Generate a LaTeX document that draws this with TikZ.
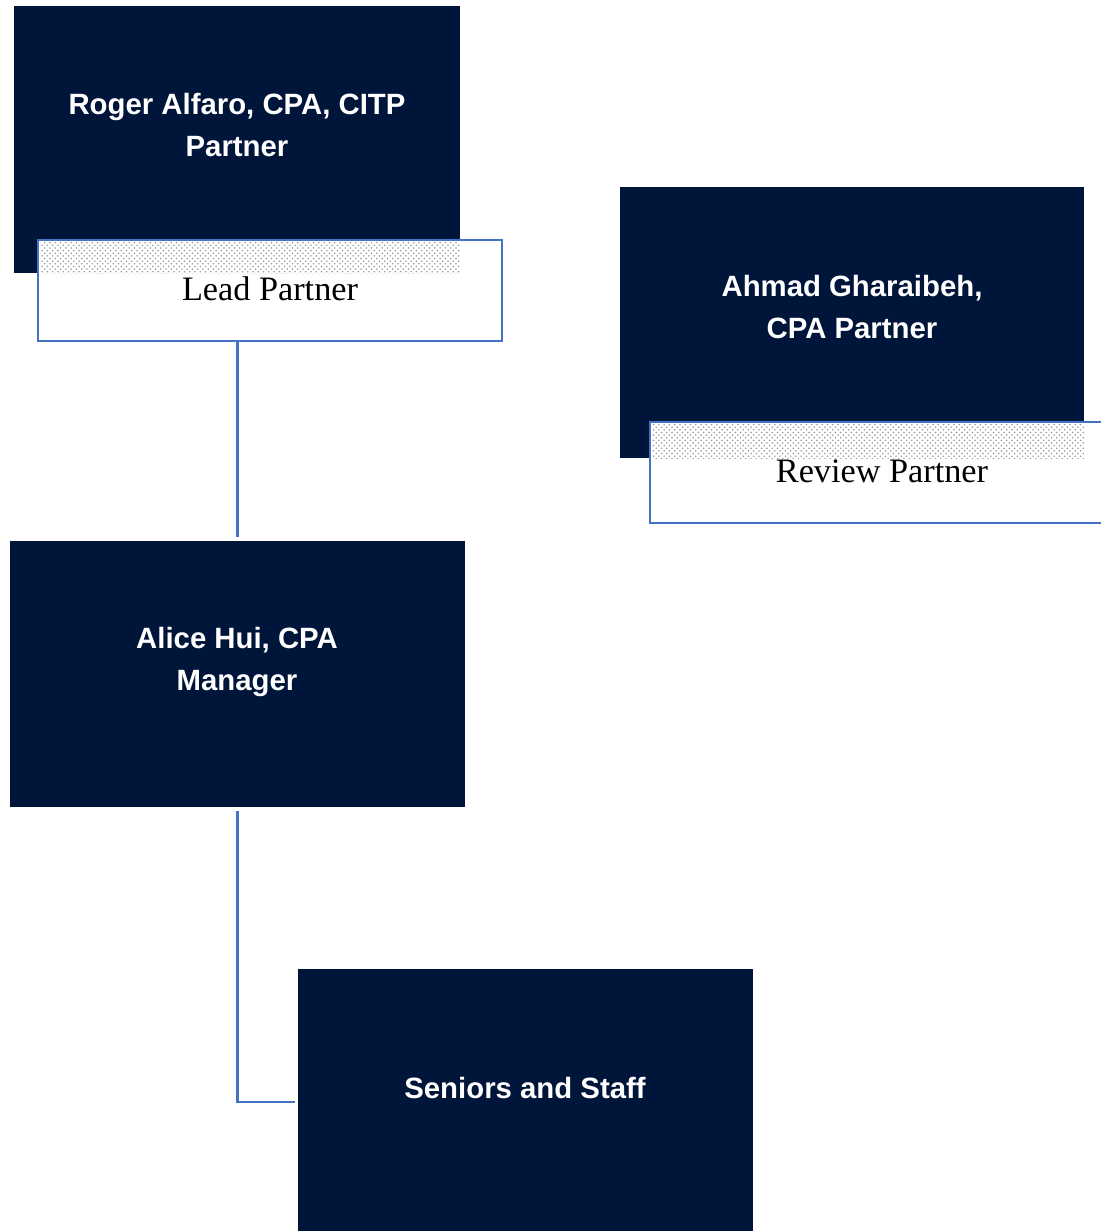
\documentclass[tikz,border=0pt]{standalone}
\usepackage{tikz}
\usepackage{xcolor}
\usepackage{fontspec}
\setmainfont{Liberation Serif}
\setsansfont{Liberation Sans}
\usetikzlibrary{patterns,calc}
\definecolor{firmnavy}{RGB}{0, 21, 58}
\definecolor{firmblue}{RGB}{68, 114, 196}

\begin{document}
\begin{tikzpicture}[x=0.02cm, y=-0.02cm,
    namebox/.style={rectangle, fill=firmnavy, draw=none, anchor=north west,
        inner sep=0pt, outer sep=0pt, minimum width=446*0.02cm, minimum height=267*0.02cm},
    rolebox/.style={rectangle, fill=white, draw=firmblue, line width=1.6pt, anchor=north west,
        inner sep=0pt, outer sep=0pt, minimum width=464*0.02cm, minimum height=101*0.02cm},
    nametext/.style={text=white, font=\sffamily\bfseries\fontsize{16.7}{24.3}\selectfont, align=center},
    roletext/.style={text=black, font=\fontsize{19.5}{22}\selectfont},
    link/.style={draw=firmblue, line width=1.6pt}]
    \useasboundingbox (0,0) rectangle (1101,1231);

    % lead partner
    \node[namebox] (roger) at (14,6) {};
    \node[rolebox] (lead) at (38,240) {};
    \fill[white] (40,242) rectangle (460,273);
    \fill[pattern=crosshatch dots, pattern color=gray!80] (40,242) rectangle (460,273);
    \node[nametext] (rogertxt) at (237,125) {Roger Alfaro, CPA, CITP\\Partner};
    \node[roletext] (leadtxt) at (270,289) {Lead Partner};

    % review partner
    \node[namebox, minimum width=464*0.02cm, minimum height=271*0.02cm] (ahmad) at (620,187) {};
    \node[rolebox] (review) at (650,422) {};
    \fill[white] (652,424) rectangle (1084,458);
    \fill[pattern=crosshatch dots, pattern color=gray!80] (652,424) rectangle (1084,458);
    \node[nametext] (ahmadtxt) at (852,307) {Ahmad Gharaibeh,\\CPA Partner};
    \node[roletext] (reviewtxt) at (882,471) {Review Partner};

    % manager
    \node[namebox, minimum width=455*0.02cm, minimum height=266*0.02cm] (alice) at (10,541) {};
    \node[nametext] (alicetxt) at (237,662) {Alice Hui, CPA\\Manager};

    % staff
    \node[namebox, minimum width=455*0.02cm, minimum height=266*0.02cm] (seniors) at (298,969) {};
    \node[nametext] (seniorstxt) at (525,1088) {Seniors and Staff};

    % connectors
    \draw[link, shorten >=0.08cm] (alice.north |- lead.south) -- (alice.north);
    \draw[link, shorten <=0.08cm, shorten >=0.06cm] (alice.south) |- (seniors.west);
\end{tikzpicture}
\end{document}
